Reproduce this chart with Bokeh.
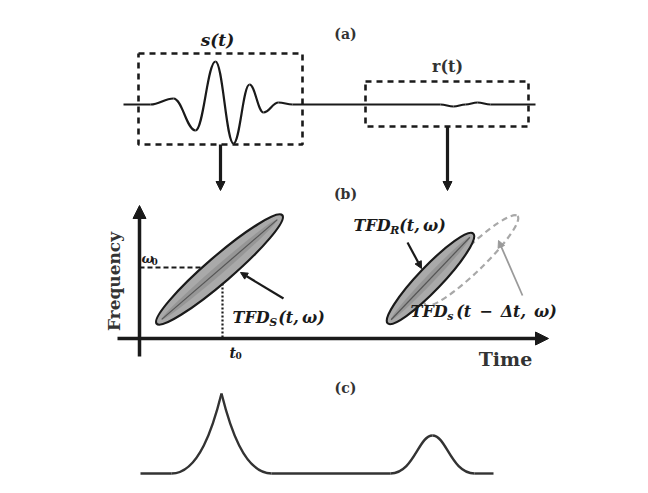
import math
from bokeh.plotting import figure
from bokeh.models import Range1d, Arrow, NormalHead
from bokeh.core.properties import value
from bokeh.embed import file_html
from bokeh.resources import INLINE

# ---- data (schematic, in picture units) ----
# (a) transmitted/received signal: extrema of the waveform
wave_x = [123, 150, 173, 195, 215, 233, 249, 263, 278, 292, 440, 453, 465, 477, 490, 535]
wave_y = [104, 104, 98, 130, 61, 143, 84, 112, 102, 104, 104, 106, 104, 102, 104, 104]
# boxes: left, right, top, bottom
box_l = [138, 365]
box_r = [302, 528]
box_t = [53, 81]
box_b = [144, 126]
# down arrows from boxes
down_x = [220, 447]
down_y0 = [144, 126]
down_y1 = [190, 190]

# (b) time-frequency distributions: centre x, centre y, major, minor, angle (deg)
tfd_cx = [219, 430]
tfd_cy = [269, 278]
tfd_major = [166, 124]
tfd_minor = [26, 24]
tfd_angle = [40.8, 46.3]
shift_cx, shift_cy, shift_major, shift_minor, shift_angle = 471, 260, 128, 24, 44.0
t0, w0 = 222, 267

# (c) correlation output peaks
base_y = 473
base_x0, base_x1 = 140, 493
peak_c = [221, 432]
peak_top = [393, 435]
peak_hw = [50, 42]

p = figure(width=632, height=477, x_range=Range1d(0, 632), y_range=Range1d(477, 0),
           output_backend="svg", toolbar_location=None, x_axis_type=None, y_axis_type=None,
           min_border=0)
p.grid.visible = False
p.outline_line_color = None
p.background_fill_color = "white"

SERIF = value("DejaVu Serif")
INK = "#1a1a1a"

# ---- (a) waveform as smooth bezier segments through extrema ----
x0s, y0s, x1s, y1s, cx0, cy0, cx1, cy1 = [], [], [], [], [], [], [], []
for i in range(len(wave_x) - 1):
    a, b = wave_x[i], wave_x[i + 1]
    d = (b - a) * 0.4
    x0s.append(a); y0s.append(wave_y[i]); x1s.append(b); y1s.append(wave_y[i + 1])
    cx0.append(a + d); cy0.append(wave_y[i]); cx1.append(b - d); cy1.append(wave_y[i + 1])
p.bezier(x0=x0s, y0=y0s, x1=x1s, y1=y1s, cx0=cx0, cy0=cy0, cx1=cx1, cy1=cy1,
         line_color=INK, line_width=2.2)

for l, r, t, b in zip(box_l, box_r, box_t, box_b):
    p.line([l, r, r, l, l], [t, t, b, b, t], line_color=INK, line_width=2.6, line_dash="6 5")

p.text(x=[217], y=[39], text=["s(t)"], text_font=SERIF, text_font_style="bold italic",
       text_font_size="17px", text_align="center", text_baseline="middle", text_color=INK)
p.text(x=[447], y=[66], text=["r(t)"], text_font=SERIF, text_font_style="bold",
       text_font_size="16px", text_align="center", text_baseline="middle", text_color="#333333")

for x, a, b in zip(down_x, down_y0, down_y1):
    p.add_layout(Arrow(end=NormalHead(size=9, fill_color=INK, line_color=INK),
                       x_start=x, y_start=a, x_end=x, y_end=b, line_width=3.2, line_color=INK))

# panel labels
p.text(x=[345, 345, 345], y=[33, 193, 387], text=["(a)", "(b)", "(c)"], text_font=SERIF,
       text_font_style="bold", text_font_size="14px", text_align="center",
       text_baseline="middle", text_color="#333333")

# ---- (b) axes ----
p.add_layout(Arrow(end=NormalHead(size=13, fill_color=INK, line_color=INK),
                   x_start=139, y_start=356, x_end=139, y_end=205, line_width=3.5, line_color=INK))
p.add_layout(Arrow(end=NormalHead(size=13, fill_color=INK, line_color=INK),
                   x_start=117, y_start=338, x_end=548, y_end=338, line_width=3.5, line_color=INK))
p.text(x=[113], y=[281], text=["Frequency"], angle=math.pi / 2, text_font=SERIF,
       text_font_style="bold", text_font_size="17px", text_align="center",
       text_baseline="middle", text_color="#333333")
p.text(x=[505], y=[358], text=["Time"], text_font=SERIF, text_font_style="bold",
       text_font_size="19px", text_align="center", text_baseline="middle", text_color="#333333")

# reference lines at t0 / w0
p.line([139, t0], [w0, w0], line_color=INK, line_width=2, line_dash="5 3")
p.line([t0, t0], [w0, 338], line_color=INK, line_width=2.2, line_dash="2 2")

# shifted (dashed) TFD
p.ellipse(x=[shift_cx], y=[shift_cy], width=[shift_major], height=[shift_minor],
          angle=[math.radians(shift_angle)], fill_color=None, line_color="#a8a8a8",
          line_width=2.2, line_dash="6 4")

# TFD ellipses
p.ellipse(x=tfd_cx, y=tfd_cy, width=tfd_major, height=tfd_minor,
          angle=[math.radians(a) for a in tfd_angle], fill_color="#a9a9a9",
          line_color=INK, line_width=2.2)
p.ellipse(x=tfd_cx, y=tfd_cy, width=[m * 0.92 for m in tfd_major],
          height=[m * 0.35 for m in tfd_minor],
          angle=[math.radians(a) for a in tfd_angle], fill_color="#8a8a8a",
          fill_alpha=0.6, line_color=None)
lx0, ly0, lx1, ly1 = [], [], [], []
for cx, cy, m, a in zip(tfd_cx, tfd_cy, tfd_major, tfd_angle):
    h = m * 0.46
    dx, dy = h * math.cos(math.radians(a)), h * math.sin(math.radians(a))
    lx0.append(cx - dx); ly0.append(cy + dy); lx1.append(cx + dx); ly1.append(cy - dy)
p.segment(x0=lx0, y0=ly0, x1=lx1, y1=ly1, line_color="#555555", line_width=1.2)

# labels of the TFDs
def tfd_label(x, y, sub, args, size=16, color=INK):
    p.text(x=[x], y=[y], text=["TFD"], text_font=SERIF, text_font_style="bold italic",
           text_font_size=f"{size}px", text_baseline="middle", text_color=color)
    p.text(x=[x + 2.3 * size], y=[y + 5], text=[sub], text_font=SERIF,
           text_font_style="bold italic", text_font_size="11px", text_baseline="middle",
           text_color=color)
    p.text(x=[x + 2.3 * size + 9], y=[y], text=[args], text_font=SERIF,
           text_font_style="bold italic", text_font_size=f"{size}px", text_baseline="middle",
           text_color=color)

tfd_label(232, 317, "S", "(t,\u2009ω)")
tfd_label(353, 225, "R", "(t,\u2009ω)")
tfd_label(410, 311, "s", "(t\u2002−\u2002Δt,\u2002ω)")

p.text(x=[141], y=[258], text=["ω"], text_font=SERIF, text_font_style="bold italic",
       text_font_size="13px", text_baseline="middle", text_color=INK)
p.text(x=[151], y=[261], text=["0"], text_font=SERIF, text_font_style="bold",
       text_font_size="9px", text_baseline="middle", text_color=INK)
p.text(x=[229], y=[352], text=["t"], text_font=SERIF, text_font_style="bold italic",
       text_font_size="14px", text_baseline="middle", text_color=INK)
p.text(x=[235], y=[355], text=["0"], text_font=SERIF, text_font_style="bold",
       text_font_size="9px", text_baseline="middle", text_color=INK)

# pointer arrows
p.add_layout(Arrow(end=NormalHead(size=7, fill_color=INK, line_color=INK),
                   x_start=283, y_start=298, x_end=240, y_end=272, line_width=2.2, line_color=INK))
p.add_layout(Arrow(end=NormalHead(size=7, fill_color=INK, line_color=INK),
                   x_start=407, y_start=242, x_end=421, y_end=268, line_width=2.2, line_color=INK))
p.add_layout(Arrow(end=NormalHead(size=7, fill_color="#9a9a9a", line_color="#9a9a9a"),
                   x_start=522, y_start=295, x_end=498, y_end=240, line_width=1.8,
                   line_color="#9a9a9a"))

# ---- (c) peaks ----
LC = "#333333"
p.line([base_x0, peak_c[0] - peak_hw[0]], [base_y, base_y], line_color=LC, line_width=2.4)
p.line([peak_c[0] + peak_hw[0], peak_c[1] - peak_hw[1]], [base_y, base_y], line_color=LC, line_width=2.4)
p.line([peak_c[1] + peak_hw[1], base_x1], [base_y, base_y], line_color=LC, line_width=2.4)
c, t, w = peak_c[0], peak_top[0], peak_hw[0]
p.bezier(x0=[c - w, c], y0=[base_y, t], x1=[c, c + w], y1=[t, base_y],
         cx0=[c - w * 0.45, c + w * 0.16], cy0=[base_y, t + (base_y - t) * 0.4],
         cx1=[c - w * 0.16, c + w * 0.45], cy1=[t + (base_y - t) * 0.4, base_y],
         line_color=LC, line_width=2.4)
c, t, w = peak_c[1], peak_top[1], peak_hw[1]
p.bezier(x0=[c - w, c], y0=[base_y, t], x1=[c, c + w], y1=[t, base_y],
         cx0=[c - w * 0.45, c + w * 0.33], cy0=[base_y, t],
         cx1=[c - w * 0.33, c + w * 0.45], cy1=[t, base_y],
         line_color=LC, line_width=2.4)

open("out.html", "w").write(file_html(p, INLINE))
